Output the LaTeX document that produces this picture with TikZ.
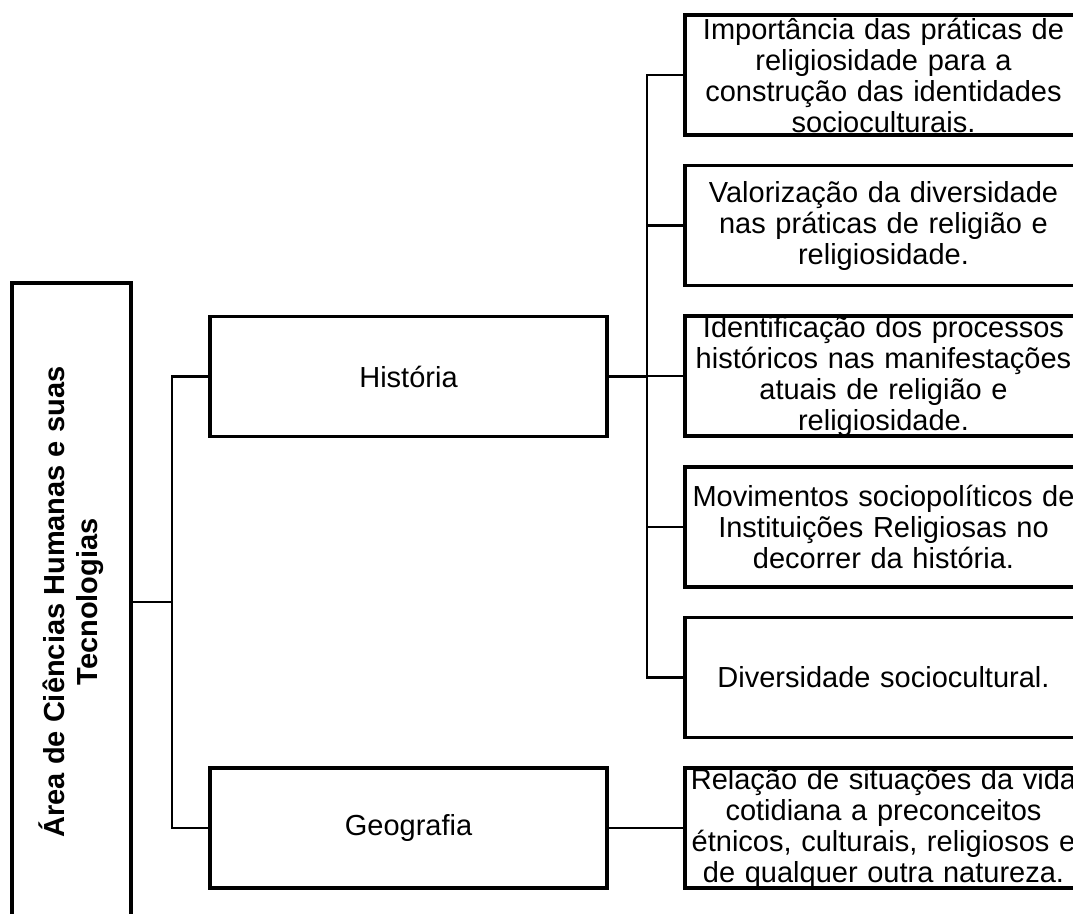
\documentclass[tikz,border=0pt]{standalone}
\usepackage{fontspec}
\setmainfont{Liberation Sans}
\usetikzlibrary{positioning}
\newcommand{\boxfont}{\fontsize{29}{31}\selectfont}
\newcommand{\areafont}{\fontsize{29}{33}\selectfont\bfseries}

\begin{document}
\begin{tikzpicture}[x=1pt, y=-1pt, font=\boxfont,
    areabox/.style={draw, line width=3.3pt, minimum width=638pt, minimum height=119pt,
      inner sep=0pt, align=center, font=\areafont},
    subjbox/.style={draw, line width=3.5pt, minimum width=397pt, minimum height=120pt, inner sep=0pt},
    topicbox/.style={draw, line width=3.5pt, minimum width=397pt, minimum height=120pt,
      text width=390pt, inner xsep=3.5pt, inner ysep=0pt, align=center},
    link/.style={line width=2.5pt}]
    \useasboundingbox (0,0) rectangle (1073,913);
    % area and subjects
    \node[areabox, rotate=90] (area) at (71.5,602) {Área de Ciências Humanas e suas\\ Tecnologias};
    \node[subjbox] (hist) at (408.5,376.5) {História};
    \node[subjbox] (geo) at (408.5,828) {Geografia};
    % topics
    \node[topicbox] (imp) at (883.5,75)
      {Importância das práticas de\\ religiosidade para a\\ construção das identidades\\ socioculturais.};
    \node[topicbox] (val) at (883.5,225.6)
      {Valorização da diversidade\\ nas práticas de religião e\\ religiosidade.};
    \node[topicbox] (ident) at (883.5,376.2)
      {Identificação dos processos\\ históricos nas manifestações\\ atuais de religião e\\ religiosidade.};
    \node[topicbox] (mov) at (883.5,526.8)
      {Movimentos sociopolíticos de\\ Instituições Religiosas no\\ decorrer da história.};
    \node[topicbox] (div) at (883.5,677.4) {Diversidade sociocultural.};
    \node[topicbox] (rel) at (883.5,828)
      {Relação de situações da vida\\ cotidiana a preconceitos\\ étnicos, culturais, religiosos e\\ de qualquer outra natureza.};
    % connectors
    \coordinate (areafork) at (172,602);
    \coordinate (histfork) at (647,376.5);
    \draw[link] (area.south) -- (areafork) |- (hist.west);
    \draw[link] (areafork) |- (geo.west);
    \draw[link] (hist.east) -- (histfork);
    \foreach \t in {imp, val, ident, mov, div}
      \draw[link] (histfork) |- (\t.west);
    \draw[link] (geo.east) -- (rel.west);
  \end{tikzpicture}
\end{document}
